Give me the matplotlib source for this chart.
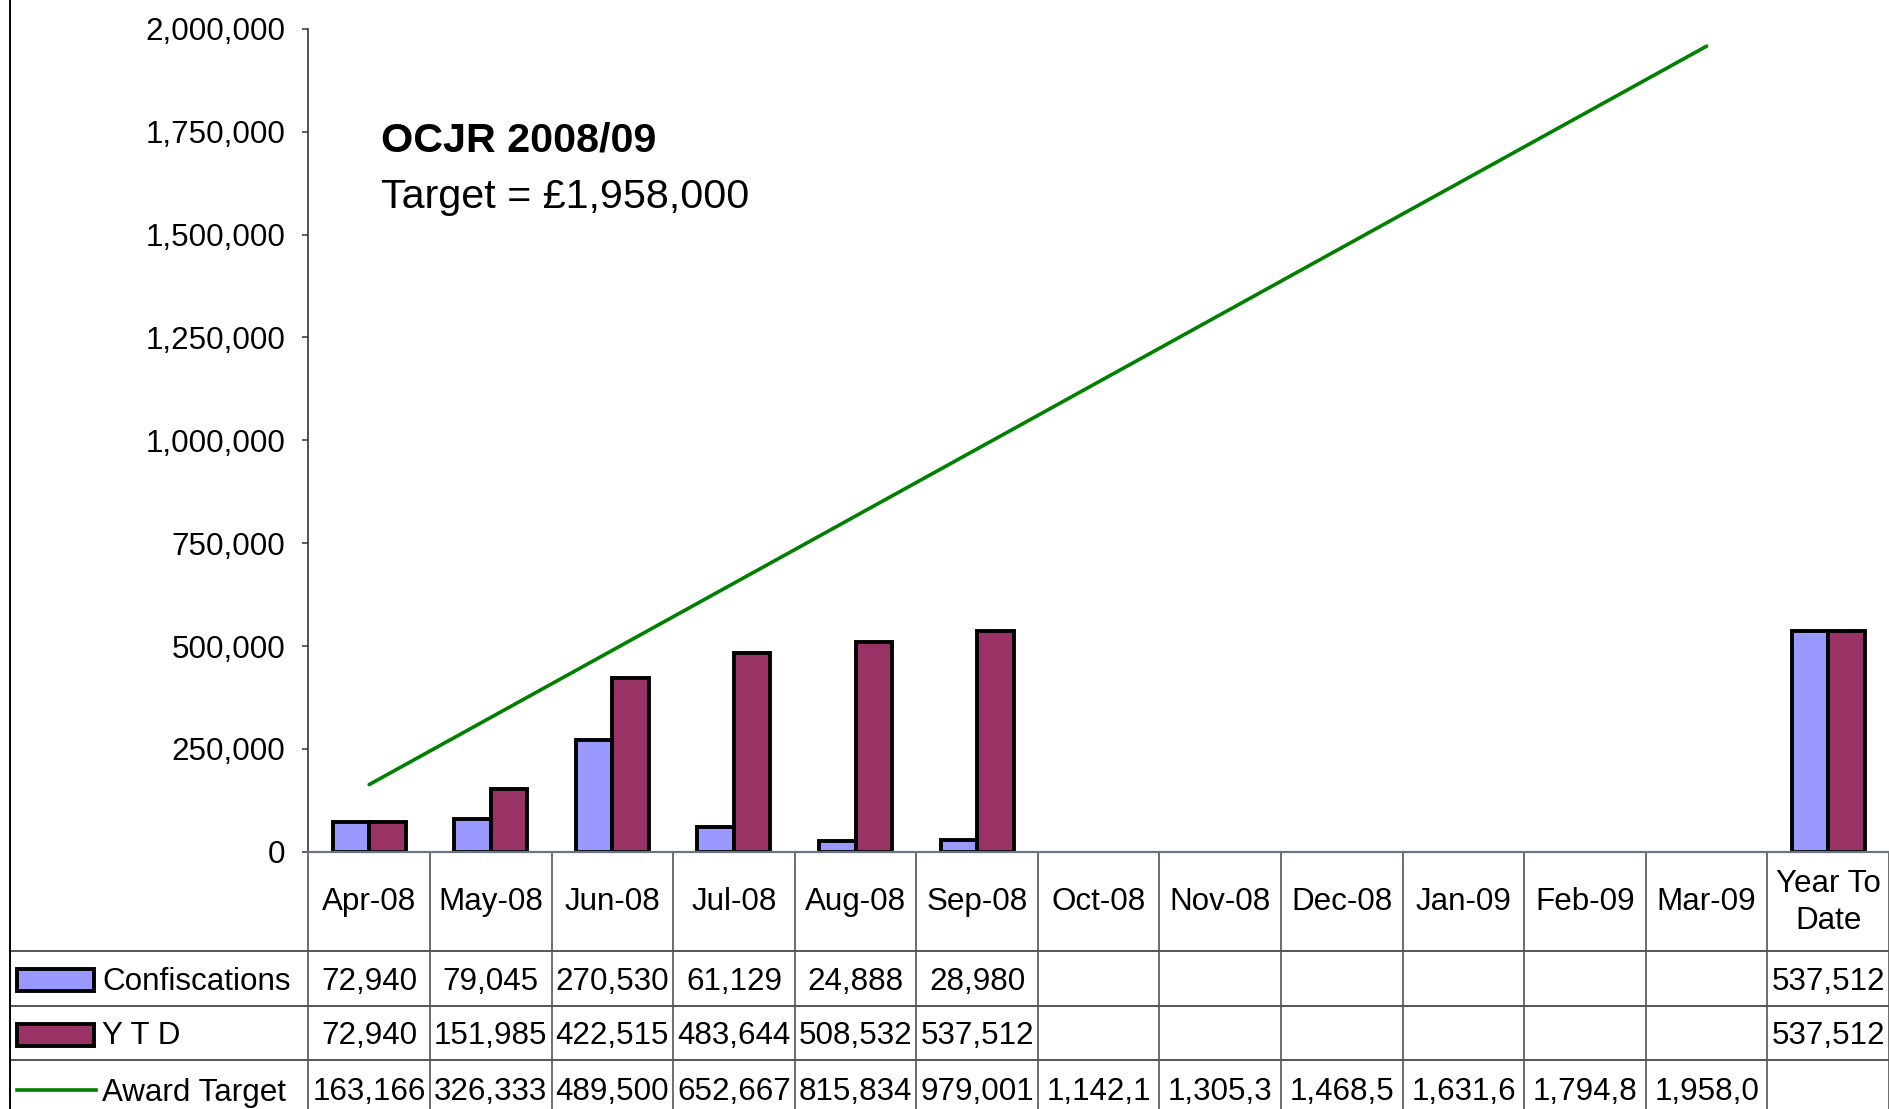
import numpy as np
import matplotlib
matplotlib.use("Agg")
import matplotlib.pyplot as plt
from matplotlib.lines import Line2D
from matplotlib.patches import Rectangle
from matplotlib.ticker import FuncFormatter, MultipleLocator

plt.rcParams["font.family"] = ["Liberation Sans", "DejaVu Sans"]

nan = np.nan
categories = ["Apr-08", "May-08", "Jun-08", "Jul-08", "Aug-08", "Sep-08",
              "Oct-08", "Nov-08", "Dec-08", "Jan-09", "Feb-09", "Mar-09",
              "Year To\nDate"]
confiscations = [72940, 79045, 270530, 61129, 24888, 28980,
                 nan, nan, nan, nan, nan, nan, 537512]
ytd = [72940, 151985, 422515, 483644, 508532, 537512,
       nan, nan, nan, nan, nan, nan, 537512]
award_target = [163166, 326333, 489500, 652667, 815834, 979001,
                1142168, 1305335, 1468502, 1631669, 1794836, 1958003, nan]

series_names = ["Confiscations", "Y T D", "Award Target"]
title_lines = ["OCJR 2008/09", "Target = \u00a31,958,000"]

BLUE = "#9999FF"
MAROON = "#993366"
GREEN = "#008000"
GRID = "#555555"
FS = 22.6

W, H = 1889, 1109
fig = plt.figure(figsize=(W / 100, H / 100), dpi=100)

# plot area in pixels (from top-left)
left_px, right_px, top_px, zero_px = 308.4, 1889.0, 28.9, 851.7
ax = fig.add_axes([left_px / W, 1 - zero_px / H,
                   (right_px - left_px) / W, (zero_px - top_px) / H])

def fy(ypx):
    """Pixel row (from top) -> axes fraction."""
    return (zero_px - ypx) / (zero_px - top_px)

def fx(xpx):
    return (xpx - left_px) / (right_px - left_px)

x = np.arange(len(categories))
bw = 0.3
ax.bar(x - bw / 2, confiscations, bw, color=BLUE, edgecolor="black",
       linewidth=2.8, zorder=2)
ax.bar(x + bw / 2, ytd, bw, color=MAROON, edgecolor="black",
       linewidth=2.8, zorder=2)
ax.plot(x, award_target, color=GREEN, linewidth=2.6, zorder=3,
        solid_capstyle="round")

ax.set_xlim(-0.5, len(categories) - 0.5)
ax.set_ylim(0, 2000000)
ax.yaxis.set_major_locator(MultipleLocator(250000))
ax.yaxis.set_major_formatter(FuncFormatter(lambda v, p: f"{v:,.0f}"))
ax.tick_params(axis="y", labelsize=FS, length=4.5, width=1.2,
               pad=12, color="#444444")
ax.set_xticks([])
for s in ["top", "right"]:
    ax.spines[s].set_visible(False)
ax.spines["left"].set_color("#333333")
ax.spines["left"].set_linewidth(1.2)
ax.spines["bottom"].set_color("#6a7584")
ax.spines["bottom"].set_linewidth(1.6)

# title block
ax.text(fx(380.7), fy(140.5), title_lines[0], fontsize=29.7, fontweight="bold",
        va="center", ha="left", transform=ax.transAxes)
ax.text(fx(380.7), fy(197.5), title_lines[1], fontsize=29.7,
        va="center", ha="left", transform=ax.transAxes)

# data table below the plot
row_edges_px = [950.5, 1006.0, 1060.0]
bottom_px = 1120.0
xt = ax.get_xaxis_transform()
for k in range(len(categories) + 1):
    ax.add_line(Line2D([k - 0.5, k - 0.5], [0, fy(bottom_px)], transform=xt,
                       color=GRID, linewidth=1.2, clip_on=False))
for ypx in row_edges_px:
    ax.add_line(Line2D([fx(9.6), 1.0], [fy(ypx), fy(ypx)],
                       transform=ax.transAxes, color=GRID, linewidth=1.4,
                       clip_on=False))

# left border of chart area
fig.add_artist(Line2D([9.6 / W, 9.6 / W], [0, 1], transform=fig.transFigure,
                      color="black", linewidth=1.4))

header_y = fy(902.3)
for k, c in enumerate(categories):
    ax.text(k, header_y, c, transform=xt, ha="center", va="center",
            fontsize=FS, linespacing=1.3, clip_on=False)

def cell_text(v):
    if v is None or (isinstance(v, float) and np.isnan(v)):
        return ""
    s = f"{v:,.0f}"
    return s[:7]

row_centers_px = [981.5, 1035.5, 1092.5]
for vals, ypx in zip([confiscations, ytd, award_target], row_centers_px):
    for k, v in enumerate(vals):
        ax.text(k, fy(ypx), cell_text(v), transform=xt, ha="center",
                va="center", fontsize=FS, clip_on=False)

# legend keys in the row-label column
key_x0, key_x1 = 17.0, 94.0
for (ytop, ybot), color in zip([(969, 991), (1024, 1046)], [BLUE, MAROON]):
    fig.add_artist(Rectangle((key_x0 / W, 1 - ybot / H),
                             (key_x1 - key_x0) / W, (ybot - ytop) / H,
                             transform=fig.transFigure, facecolor=color,
                             edgecolor="black", linewidth=2.8))
fig.add_artist(Line2D([17 / W, 96 / W], [1 - 1090 / H, 1 - 1090 / H],
                      transform=fig.transFigure, color=GREEN, linewidth=2.6))
for name, ypx in zip(series_names, row_centers_px):
    fig.text(102 / W, 1 - ypx / H, name, fontsize=FS, ha="left", va="center")

fig.savefig("out.png", dpi=100)
